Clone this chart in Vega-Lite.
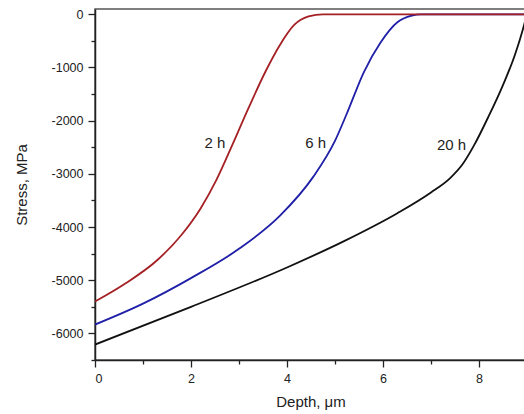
{
  "$schema": "https://vega.github.io/schema/vega-lite/v6.json",
  "autosize": {"type": "none"},
  "padding": {"left": 95, "top": 9, "right": 0, "bottom": 54},
  "width": 431,
  "height": 351,
  "config": {
    "view": {"stroke": "#555", "strokeWidth": 1.5},
    "font": "Liberation Sans",
    "axis": {
      "labelFont": "Liberation Sans",
      "titleFont": "Liberation Sans",
      "labelFontSize": 12.5,
      "titleFontSize": 15,
      "titleFontWeight": "normal",
      "labelColor": "#222",
      "titleColor": "#222",
      "domainColor": "#222",
      "domainWidth": 1.5,
      "tickColor": "#222",
      "tickWidth": 1.3,
      "grid": false,
      "labelPadding": 5,
      "labelOverlap": false,
      "labelBound": false
    }
  },
  "datasets": {
    "curves": [
      {"series": "2 h", "depth": 0, "stress": -5400},
      {"series": "2 h", "depth": 0.6, "stress": -5080},
      {"series": "2 h", "depth": 1.3, "stress": -4620},
      {"series": "2 h", "depth": 1.8, "stress": -4150},
      {"series": "2 h", "depth": 2.2, "stress": -3650},
      {"series": "2 h", "depth": 2.53, "stress": -3114},
      {"series": "2 h", "depth": 2.85, "stress": -2480},
      {"series": "2 h", "depth": 3.2, "stress": -1760},
      {"series": "2 h", "depth": 3.55, "stress": -1080},
      {"series": "2 h", "depth": 3.85, "stress": -580},
      {"series": "2 h", "depth": 4.15, "stress": -200},
      {"series": "2 h", "depth": 4.45, "stress": -40},
      {"series": "2 h", "depth": 4.75, "stress": 0},
      {"series": "2 h", "depth": 8.98, "stress": 0},
      {"series": "6 h", "depth": 0, "stress": -5834},
      {"series": "6 h", "depth": 1, "stress": -5440},
      {"series": "6 h", "depth": 2, "stress": -4960},
      {"series": "6 h", "depth": 3, "stress": -4410},
      {"series": "6 h", "depth": 3.85, "stress": -3790},
      {"series": "6 h", "depth": 4.55, "stress": -3052},
      {"series": "6 h", "depth": 5.0, "stress": -2380},
      {"series": "6 h", "depth": 5.25, "stress": -1860},
      {"series": "6 h", "depth": 5.6, "stress": -1090},
      {"series": "6 h", "depth": 5.95, "stress": -530},
      {"series": "6 h", "depth": 6.3, "stress": -150},
      {"series": "6 h", "depth": 6.6, "stress": -25},
      {"series": "6 h", "depth": 6.8, "stress": 0},
      {"series": "6 h", "depth": 8.98, "stress": 0},
      {"series": "20 h", "depth": 0, "stress": -6210},
      {"series": "20 h", "depth": 2, "stress": -5500},
      {"series": "20 h", "depth": 4, "stress": -4760},
      {"series": "20 h", "depth": 5.2, "stress": -4260},
      {"series": "20 h", "depth": 6.3, "stress": -3740},
      {"series": "20 h", "depth": 7.0, "stress": -3350},
      {"series": "20 h", "depth": 7.4, "stress": -3080},
      {"series": "20 h", "depth": 7.65, "stress": -2830},
      {"series": "20 h", "depth": 7.9, "stress": -2460},
      {"series": "20 h", "depth": 8.2, "stress": -1920},
      {"series": "20 h", "depth": 8.5, "stress": -1330},
      {"series": "20 h", "depth": 8.75, "stress": -760},
      {"series": "20 h", "depth": 8.94, "stress": -200},
      {"series": "20 h", "depth": 8.98, "stress": -60}
    ],
    "labels": [
      {"label": "2 h", "depth": 2.5, "stress": -2420},
      {"label": "6 h", "depth": 4.6, "stress": -2420},
      {"label": "20 h", "depth": 7.43, "stress": -2458}
    ]
  },
  "layer": [
    {
      "data": {"name": "curves"},
      "transform": [{"filter": "datum.series === '20 h'"}],
      "mark": {"type": "line", "interpolate": "monotone", "color": "#111", "strokeWidth": 1.8, "clip": true},
      "encoding": {
        "x": {
          "field": "depth", "type": "quantitative",
          "scale": {"domain": [0, 8.98], "nice": false, "zero": false},
          "axis": {
            "title": "Depth, μm",
            "format": "d",
            "values": [0, 1, 2, 3, 4, 5, 6, 7, 8],
            "labelExpr": "datum.value % 2 === 0 ? datum.label : ''",
            "tickSize": {"condition": {"test": "datum.value % 2 === 0", "value": 7}, "value": 4},
            "titlePadding": 10
          }
        },
        "y": {
          "field": "stress", "type": "quantitative",
          "scale": {"domain": [-6500, 100], "nice": false, "zero": false},
          "axis": {
            "title": "Stress, MPa",
            "values": [-6500, -6000, -5500, -5000, -4500, -4000, -3500, -3000, -2500, -2000, -1500, -1000, -500, 0],
            "tickCount": 30,
            "labelExpr": "datum.value % 1000 === 0 ? '' + datum.value : ''",
            "tickSize": {"condition": {"test": "datum.value % 1000 === 0", "value": 7}, "value": 4},
            "titlePadding": 22
          }
        }
      }
    },
    {
      "data": {"name": "curves"},
      "transform": [{"filter": "datum.series === '6 h'"}],
      "mark": {"type": "line", "interpolate": "monotone", "color": "#1f1fa8", "strokeWidth": 1.8, "clip": true},
      "encoding": {
        "x": {"field": "depth", "type": "quantitative"},
        "y": {"field": "stress", "type": "quantitative"}
      }
    },
    {
      "data": {"name": "curves"},
      "transform": [{"filter": "datum.series === '2 h'"}],
      "mark": {"type": "line", "interpolate": "monotone", "color": "#a52024", "strokeWidth": 1.8, "clip": true},
      "encoding": {
        "x": {"field": "depth", "type": "quantitative"},
        "y": {"field": "stress", "type": "quantitative"}
      }
    },
    {
      "data": {"name": "labels"},
      "mark": {"type": "text", "font": "Liberation Sans", "fontSize": 15, "color": "#222", "align": "center", "baseline": "middle"},
      "encoding": {
        "x": {"field": "depth", "type": "quantitative"},
        "y": {"field": "stress", "type": "quantitative"},
        "text": {"field": "label"}
      }
    }
  ]
}
